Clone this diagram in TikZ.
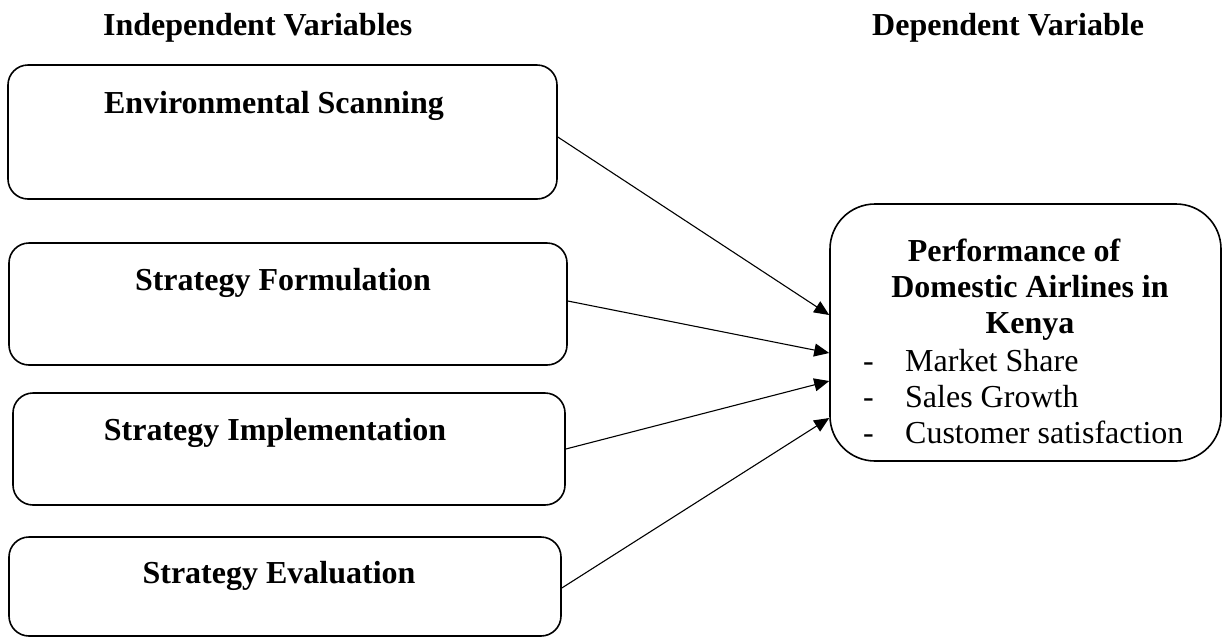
\documentclass[tikz,border=0pt]{standalone}
\usepackage{fontspec}
\setmainfont{Liberation Serif}
\usetikzlibrary{arrows.meta}
\begin{document}
\begin{tikzpicture}[x=1pt,y=-1pt,
  varbox/.style={draw, line width=1.6pt, rounded corners=20pt, inner sep=0pt},
  bigbox/.style={draw, line width=1.6pt, rounded corners=45pt, inner sep=0pt},
  title/.style={font=\fontsize{32}{36}\selectfont\bfseries, anchor=base, inner sep=0pt},
  head/.style={font=\fontsize{32}{36}\selectfont\bfseries, anchor=base west, inner sep=0pt},
  link/.style={line width=1.1pt, -{Triangle[length=15pt,width=13pt]}}]
\useasboundingbox (0,0) rectangle (1225,638);
% headers
\node[head] (hind) at (103,35) {Independent Variables};
\node[head] (hdep) at (872,35) {Dependent Variable};
% boxes
\node[varbox, minimum width=549pt, minimum height=134pt] (env) at (282.5,132) {};
\node[varbox, minimum width=558pt, minimum height=122pt] (form) at (288,304) {};
\node[varbox, minimum width=552pt, minimum height=112pt] (impl) at (289,449) {};
\node[varbox, minimum width=552pt, minimum height=99pt] (eval) at (285,586.5) {};
\node[bigbox, minimum width=391pt, minimum height=257pt] (perf) at (1025.5,332.5) {};
% titles
\node[title] (tenv) at (274,113) {Environmental Scanning};
\node[title] (tform) at (283,290) {Strategy Formulation};
\node[title] (timpl) at (275,440) {Strategy Implementation};
\node[title] (teval) at (279,583) {Strategy Evaluation};
\node[title, align=center] (tperf) at (1030,333) {Performance of\hspace*{32pt}\\Domestic Airlines in\\Kenya};
\node[anchor=base west, inner sep=0pt, align=left, font=\fontsize{32}{36}\selectfont] (list) at (863,443)
  {\makebox[42pt][l]{-}Market Share\\\makebox[42pt][l]{-}Sales Growth\\\makebox[42pt][l]{-}Customer satisfaction};
% arrows
\draw[link] ([yshift=-5pt]env.east) -- ([yshift=17.5pt]perf.west);
\draw[link] ([yshift=3pt]form.east) -- ([yshift=-20.5pt]perf.west);
\draw[link] (impl.east) -- ([yshift=-48.5pt]perf.west);
\draw[link] ([yshift=-1.5pt]eval.east) -- ([yshift=-85.5pt]perf.west);
\end{tikzpicture}
\end{document}
